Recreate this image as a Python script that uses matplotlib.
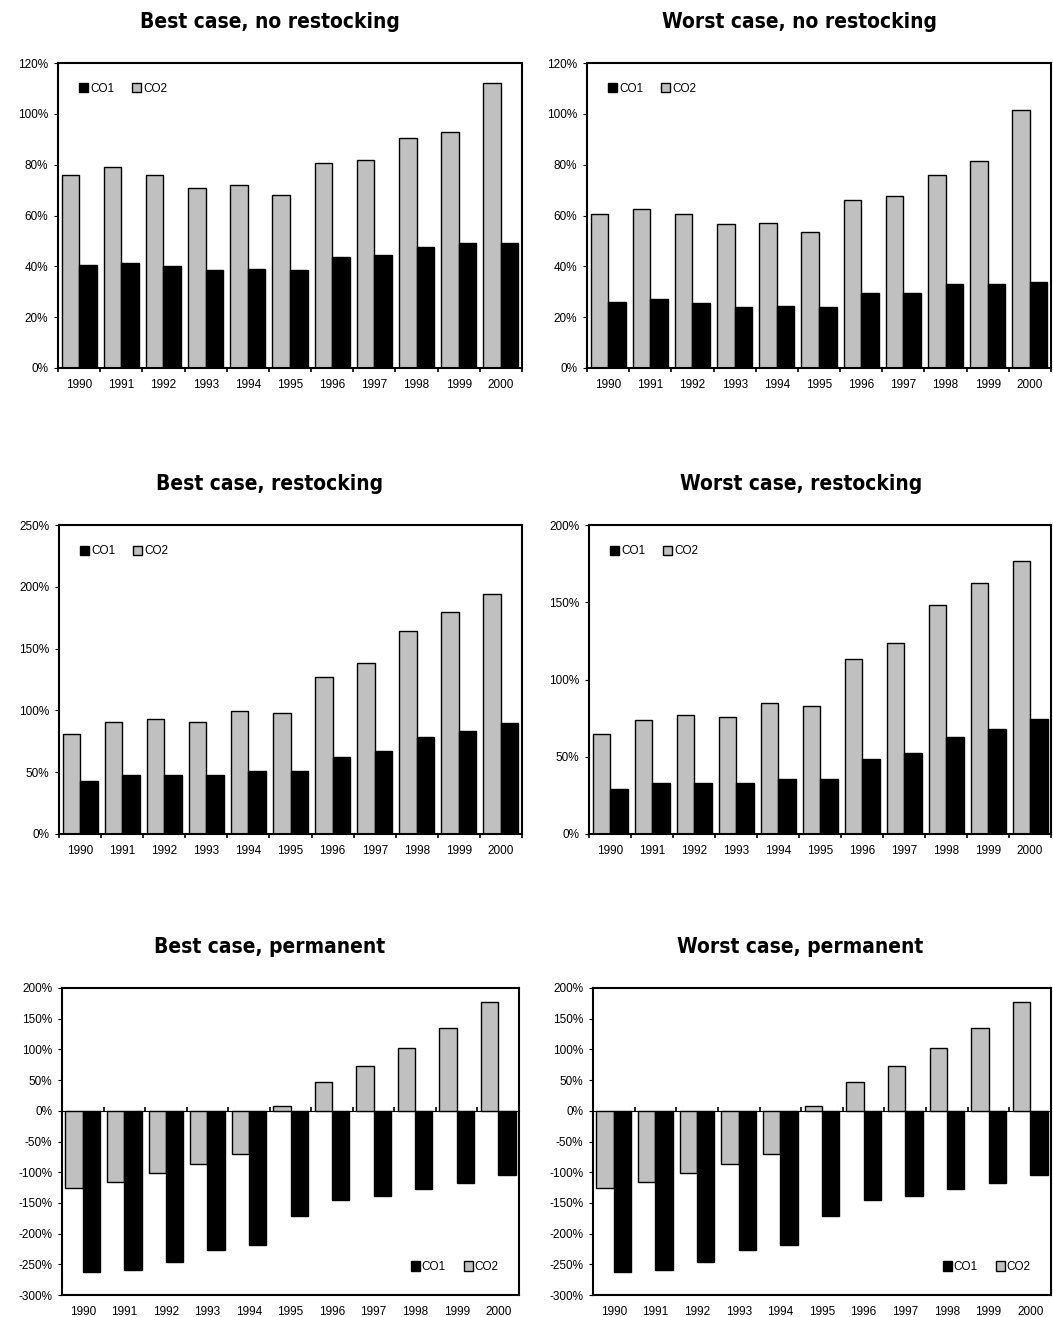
import numpy as np
import matplotlib
matplotlib.use("Agg")
import matplotlib.pyplot as plt
from matplotlib.ticker import PercentFormatter, FixedLocator, NullFormatter
from matplotlib.font_manager import fontManager, FontProperties

plt.rcParams['axes.unicode_minus'] = False
plt.rcParams['font.family'] = ["Liberation Sans", "DejaVu Sans"]

years = ["1990", "1991", "1992", "1993", "1994", "1995", "1996", "1997", "1998", "1999", "2000"]

# values in percent
bestNoRestCO2 = [76, 79, 76, 71, 72, 68, 80.5, 82, 90.5, 93, 112]
bestNoRestCO1 = [40.5, 41.5, 40, 38.5, 39, 38.5, 43.5, 44.5, 47.5, 49, 49]
worstNoRestCO2 = [60.5, 62.5, 60.5, 56.5, 57, 53.5, 66, 67.5, 76, 81.5, 101.5]
worstNoRestCO1 = [26, 27, 25.5, 24, 24.5, 24, 29.5, 29.5, 33, 33, 34]
bestRestCO2 = [81, 91, 93, 91, 99.5, 98, 127, 138.5, 164.5, 179.5, 194]
bestRestCO1 = [42.5, 47.5, 47.5, 47.5, 51, 51, 62.5, 67, 78.5, 83.5, 90]
worstRestCO2 = [65, 74, 77, 75.5, 84.5, 83, 113, 123.5, 148, 162.5, 176.5]
worstRestCO1 = [29, 33, 33, 33, 35.5, 35.5, 48.5, 52.5, 63, 68, 74.5]
bestPermCO2 = [-125, -116, -102, -86, -70, 8, 47, 73, 103, 135, 178]
bestPermCO1 = [-263, -260, -247, -227, -218, -172, -146, -139, -127, -117, -104]
worstPermCO2 = [-125, -116, -102, -86, -70, 8, 47, 73, 103, 135, 178]
worstPermCO1 = [-263, -260, -247, -227, -218, -172, -146, -139, -127, -117, -104]

W, H = 1053, 1317
GRAY = "#c0c0c0"


def pickTitleFont():
    # narrow bold face like the original, if there is one
    wanted = ["LiberationSansNarrow-Bold", "DejaVuSansCondensed-Bold", "RobotoCondensed-Bold",
              "Roboto_Condensed-Bold", "OpenSans_Condensed-Bold", "OpenSansCondensed-Bold"]
    files = [f.fname for f in fontManager.ttflist]
    for w in wanted:
        for fn in files:
            if w.lower() in fn.lower().replace(" ", ""):
                return FontProperties(fname=fn, size=15)
    return FontProperties(family="DejaVu Sans", weight="bold", stretch="condensed", size=15)


titleProp = pickTitleFont()

fig = plt.figure(figsize=(W / 100, H / 100), dpi=100)


def pxRect(l, t, r, b):
    return [l / W, 1 - b / H, (r - l) / W, (b - t) / H]


def drawPanel(rect, co2, co1, ymin, ymax, step, legendLow=False):
    ax = fig.add_axes(pxRect(*rect))
    x = np.arange(len(years))
    w = 1 / 2.4
    ax.bar(x - w / 2, co2, w, color=GRAY, edgecolor="black", linewidth=1.0, label="CO2", zorder=2)
    ax.bar(x + w / 2, co1, w, color="black", edgecolor="black", linewidth=1.0, label="CO1", zorder=2)
    ax.set_xlim(-0.5, len(years) - 0.5)
    ax.set_ylim(ymin, ymax)
    ax.yaxis.set_major_locator(FixedLocator(np.arange(ymin, ymax + step / 2, step)))
    ax.yaxis.set_major_formatter(PercentFormatter(decimals=0))
    ax.tick_params(axis="y", direction="out", length=3, width=0.8, labelsize=8.5, pad=4)

    # labels under categories, tick marks between them
    bounds = np.arange(-0.5, len(years), 1)
    ax.set_xticks(x, years)
    ax.tick_params(axis="x", which="major", length=0, labelsize=8.5, pad=8)
    if ymin < 0:
        zeroFrac = (0 - ymin) / (ymax - ymin)
        sec = ax.secondary_xaxis(zeroFrac)
        sec.set_xticks(bounds)
        sec.xaxis.set_major_formatter(NullFormatter())
        sec.tick_params(axis="x", direction="out", length=3, width=1.2)
        sec.spines["bottom"].set_linewidth(1.5)
    else:
        ax.set_xticks(bounds, minor=True)
        ax.tick_params(axis="x", which="minor", direction="out", length=3, width=1.2)

    for s in ax.spines.values():
        s.set_linewidth(1.5)

    handles, labels = ax.get_legend_handles_labels()
    order = [1, 0]
    if legendLow:
        ax.legend([handles[i] for i in order], [labels[i] for i in order], ncol=2,
                  loc="center right", bbox_to_anchor=(0.955, 0.09), frameon=False,
                  handlelength=0.7, handleheight=0.9, handletextpad=0.15,
                  columnspacing=1.6, borderpad=0, borderaxespad=0, fontsize=8.5)
    else:
        ax.legend([handles[i] for i in order], [labels[i] for i in order], ncol=2,
                  loc="center left", bbox_to_anchor=(0.045, 0.915), frameon=False,
                  handlelength=0.8, handleheight=0.8, handletextpad=0.15,
                  columnspacing=1.5, borderpad=0, borderaxespad=0, fontsize=8.5)
    return ax


drawPanel((58, 63, 522, 368), bestNoRestCO2, bestNoRestCO1, 0, 120, 20)
drawPanel((587, 63, 1051, 368), worstNoRestCO2, worstNoRestCO1, 0, 120, 20)
drawPanel((59, 525, 522, 834), bestRestCO2, bestRestCO1, 0, 250, 50)
drawPanel((589, 525, 1051, 834), worstRestCO2, worstRestCO1, 0, 200, 50)
drawPanel((62, 988, 519, 1295), bestPermCO2, bestPermCO1, -300, 200, 50, legendLow=True)
drawPanel((593, 988, 1051, 1295), worstPermCO2, worstPermCO1, -300, 200, 50, legendLow=True)

titles = [("Best case, no restocking", 270, 22), ("Worst case, no restocking", 800, 22),
          ("Best case, restocking", 270, 484), ("Worst case, restocking", 801, 484),
          ("Best case, permanent", 270, 947), ("Worst case, permanent", 800, 947)]
for t, tx, ty in titles:
    fig.text(tx / W, 1 - ty / H, t, ha="center", va="center", fontproperties=titleProp)

fig.savefig("out.png", dpi=100)
